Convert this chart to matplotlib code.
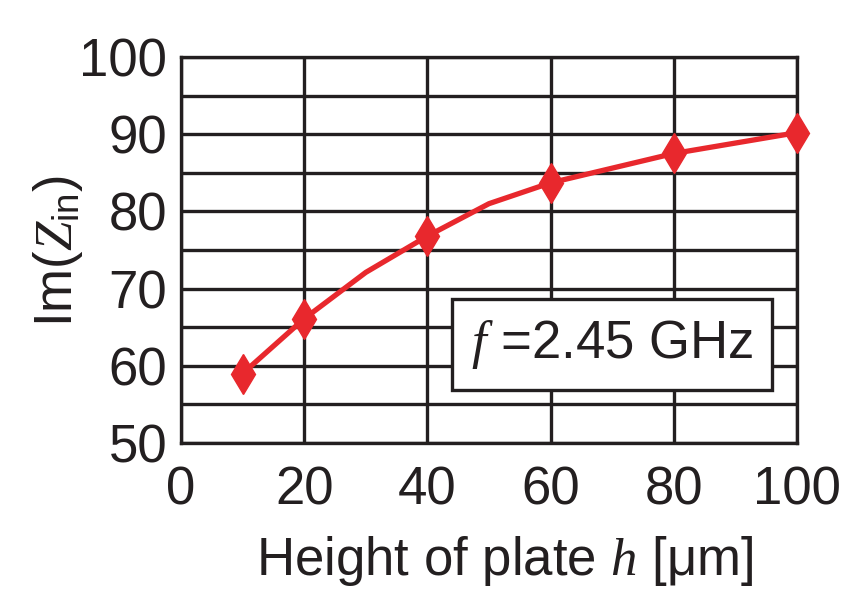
import matplotlib
matplotlib.use('Agg')
import matplotlib.pyplot as plt
import numpy as np

plt.rcParams['font.family'] = ['Liberation Sans', 'DejaVu Sans']
plt.rcParams['mathtext.fontset'] = 'custom'
plt.rcParams['mathtext.rm'] = 'Liberation Sans'
plt.rcParams['mathtext.it'] = 'Liberation Serif:italic'

# data
h_line = [10, 20, 30, 40, 50, 60, 80, 100]
im_line = [59.0, 66.1, 72.1, 76.8, 81.0, 83.7, 87.5, 90.2]
h_marker = [10, 20, 40, 60, 80, 100]
im_marker = [59.0, 66.1, 76.8, 83.7, 87.5, 90.2]

xticks = [0, 20, 40, 60, 80, 100]
yticks = [50, 60, 70, 80, 90, 100]

red = '#e8282d'
dark = '#231f20'
fs = 38

fig = plt.figure(figsize=(8.53, 5.91), dpi=100)
ax = fig.add_axes([0.2122, 0.2504, 0.7221, 0.6532])

ax.plot(h_line, im_line, color=red, lw=3.8, zorder=3, clip_on=False)
ax.plot(h_marker, im_marker, ls='none', marker='d', ms=20, color=red,
        mec=red, zorder=4, clip_on=False)

ax.set_xlim(0, 100)
ax.set_ylim(50, 100)
ax.set_xticks(xticks)
ax.set_yticks(yticks)
ax.set_yticks(np.arange(55, 100, 10), minor=True)
ax.grid(True, which='both', color=dark, lw=2.4)
ax.set_axisbelow(True)
for s in ax.spines.values():
    s.set_color(dark)
    s.set_linewidth(2.4)
ax.tick_params(which='both', length=0, labelsize=fs, colors=dark)
ax.tick_params(axis='x', pad=16)
ax.tick_params(axis='y', pad=10)

ax.set_xlabel(r'Height of plate $h$ [$\mathrm{\mu}$m]', fontsize=fs, color=dark)
ax.set_ylabel(r'Im($Z_{\mathrm{in}}$)', fontsize=fs, color=dark)
ax.xaxis.set_label_coords(0.526, -0.235)
ax.yaxis.set_label_coords(-0.156, 0.497)

ax.text(0.70, 0.254, r'$f$ =2.45 GHz', transform=ax.transAxes, fontsize=fs,
        color=dark, ha='center', va='center', zorder=5,
        bbox=dict(boxstyle='square,pad=0.36', fc='white', ec=dark, lw=2.4))

fig.savefig('out.png', dpi=100)
